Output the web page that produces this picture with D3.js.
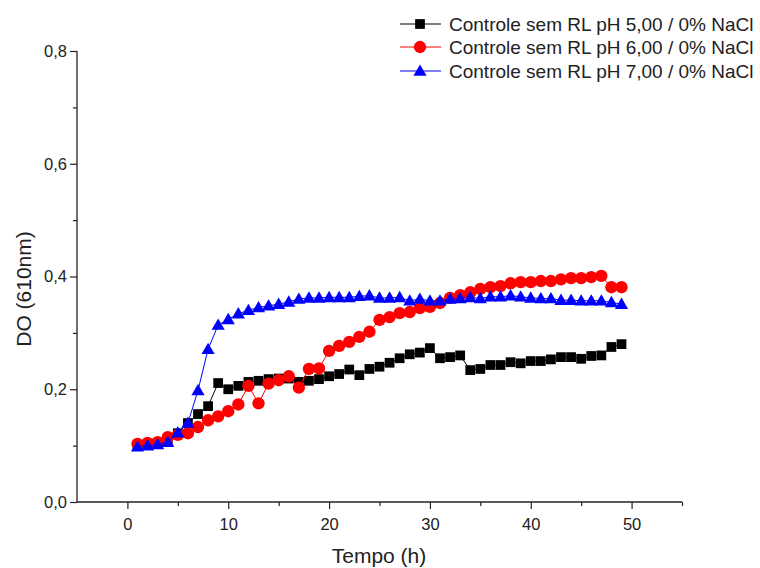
<!DOCTYPE html>
<html>
<head>
<meta charset="utf-8">
<script src="https://cdnjs.cloudflare.com/ajax/libs/d3/7.8.5/d3.min.js"></script>
<style>
body { margin: 0; background: #fff; }
svg text { font-family: "Liberation Sans", Arial, sans-serif; fill: #222; }
</style>
</head>
<body>
<svg id="chart" width="760" height="568"></svg>
<script>
// hours 1..49
var hours = d3.range(1, 50);

var ph5 = [0.100, 0.102, 0.105, 0.108, 0.122, 0.140, 0.156, 0.170, 0.211, 0.200,
           0.206, 0.213, 0.215, 0.218, 0.219, 0.219, 0.213, 0.215, 0.218, 0.223,
           0.227, 0.235, 0.225, 0.236, 0.240, 0.247, 0.255, 0.262, 0.265, 0.273,
           0.255, 0.257, 0.260, 0.234, 0.236, 0.243, 0.243, 0.248, 0.246, 0.250,
           0.250, 0.253, 0.257, 0.257, 0.254, 0.259, 0.260, 0.275, 0.280];

var ph6 = [0.103, 0.105, 0.106, 0.115, 0.119, 0.122, 0.133, 0.145, 0.152, 0.161,
           0.173, 0.206, 0.175, 0.210, 0.216, 0.223, 0.203, 0.236, 0.237, 0.268,
           0.277, 0.284, 0.293, 0.302, 0.323, 0.328, 0.335, 0.337, 0.344, 0.346,
           0.353, 0.362, 0.367, 0.372, 0.378, 0.381, 0.383, 0.388, 0.390, 0.390,
           0.392, 0.392, 0.395, 0.397, 0.397, 0.399, 0.401, 0.381, 0.381];

var ph7 = [0.098, 0.100, 0.102, 0.106, 0.123, 0.140, 0.198, 0.271, 0.314, 0.324,
           0.334, 0.340, 0.345, 0.348, 0.351, 0.355, 0.360, 0.362, 0.362, 0.363,
           0.363, 0.363, 0.365, 0.366, 0.362, 0.362, 0.363, 0.357, 0.360, 0.357,
           0.357, 0.360, 0.361, 0.363, 0.361, 0.364, 0.364, 0.366, 0.364, 0.362,
           0.361, 0.361, 0.358, 0.358, 0.357, 0.357, 0.357, 0.354, 0.351];

var seriesNames = ["Controle sem RL pH 5,00 / 0% NaCl",
                   "Controle sem RL pH 6,00 / 0% NaCl",
                   "Controle sem RL pH 7,00 / 0% NaCl"];
var xMajor = [0, 10, 20, 30, 40, 50];
var xMinor = [5, 15, 25, 35, 45, 55];
var yMajor = [0, 0.2, 0.4, 0.6, 0.8];
var yMinor = [0.1, 0.3, 0.5, 0.7];

var svg = d3.select("svg#chart");

var x = d3.scaleLinear().domain([-5, 55]).range([77, 682]);
var y = d3.scaleLinear().domain([0, 0.8]).range([502, 51]);

var ptBr = d3.formatLocale({decimal: ",", thousands: ".", grouping: [3], currency: ["", ""]});
var fmtY = ptBr.format(".1f");

// axes
var xAxis = svg.append("g").attr("transform", "translate(0,502)")
    .call(d3.axisBottom(x).tickValues(xMajor).tickSize(7).tickPadding(9).tickFormat(d3.format("d")));
svg.append("g").attr("transform", "translate(0,502)")
    .call(d3.axisBottom(x).tickValues(xMinor).tickSize(4).tickFormat(""))
    .select(".domain").remove();

var yAxis = svg.append("g").attr("transform", "translate(77,0)")
    .call(d3.axisLeft(y).tickValues(yMajor).tickSize(7).tickPadding(3).tickFormat(fmtY));
svg.append("g").attr("transform", "translate(77,0)")
    .call(d3.axisLeft(y).tickValues(yMinor).tickSize(4).tickFormat(""))
    .select(".domain").remove();

svg.selectAll(".domain").attr("stroke", "#222").attr("stroke-width", 1.3);
svg.selectAll(".tick line").attr("stroke", "#222").attr("stroke-width", 1.2);
svg.selectAll(".tick text").style("font-size", "16.5px").attr("fill", "#222");
// no outer ticks on the domain
xAxis.select(".domain").attr("d", "M77,0H682");
yAxis.select(".domain").attr("d", "M0,502V51");

svg.append("text").attr("x", 379).attr("y", 563)
    .attr("text-anchor", "middle").style("font-size", "21px").text("Tempo (h)");
svg.append("text").attr("transform", "translate(31,289) rotate(-90)")
    .attr("text-anchor", "middle").style("font-size", "21px").text("DO (610nm)");

var series = [
    {name: seriesNames[0], values: ph5, color: "#000000", symbol: d3.symbolSquare, size: 95},
    {name: seriesNames[1], values: ph6, color: "#ff0000", symbol: d3.symbolCircle, size: 120},
    {name: seriesNames[2], values: ph7, color: "#0000ff", symbol: d3.symbolTriangle, size: 75}
];

var line = d3.line()
    .x(function(d, i) { return x(hours[i]); })
    .y(function(d) { return y(d); });

series.forEach(function(s) {
    svg.append("path")
        .attr("d", line(s.values))
        .attr("fill", "none")
        .attr("stroke", s.color)
        .attr("stroke-width", 1);
    svg.selectAll(null)
        .data(s.values)
        .enter().append("path")
        .attr("d", d3.symbol().type(s.symbol).size(s.size))
        .attr("transform", function(d, i) {
            var dy = s.symbol === d3.symbolTriangle ? 1 : 0;
            return "translate(" + x(hours[i]) + "," + (y(d) + dy) + ")";
        })
        .attr("fill", s.color);
});

// legend
var legendY = [24, 47, 71];
series.forEach(function(s, i) {
    var g = svg.append("g").attr("transform", "translate(0," + legendY[i] + ")");
    g.append("line").attr("x1", 400).attr("x2", 441).attr("y1", 0).attr("y2", 0)
        .attr("stroke", s.color).attr("stroke-width", 1);
    g.append("path").attr("d", d3.symbol().type(s.symbol).size(s.size))
        .attr("transform", "translate(420," + (s.symbol === d3.symbolTriangle ? 1 : 0) + ")")
        .attr("fill", s.color);
    g.append("text").attr("x", 449).attr("y", 0).attr("dy", "0.35em")
        .style("font-size", "19px").text(s.name);
});
</script>
</body>
</html>
